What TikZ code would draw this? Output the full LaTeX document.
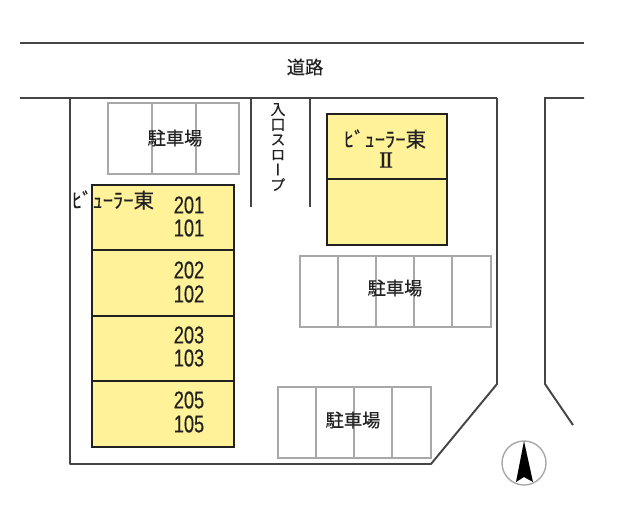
\documentclass[tikz,border=0pt]{standalone}
\usepackage{fontspec}
\setmainfont[FakeBold=0.3]{Noto Sans CJK JP}
\newfontfamily\vertfont[RawFeature=+vert,FakeBold=0.3]{Noto Sans CJK JP}
\newfontfamily\numfont[FakeStretch=0.75,FakeBold=0.3]{Liberation Sans}
\newfontfamily\romanfont[FakeBold=0.5]{DejaVu Serif}
\usepackage{xcolor}
\usetikzlibrary{positioning,calc}
\definecolor{wallgray}{rgb}{0.27, 0.27, 0.27}
\definecolor{lotgray}{rgb}{0.66, 0.66, 0.66}
\definecolor{buildyellow}{rgb}{1.0, 0.95, 0.6}
\definecolor{inkblack}{rgb}{0.13, 0.13, 0.13}

\begin{document}
\begin{tikzpicture}[x=0.02cm,y=-0.02cm,
                wall/.style={draw=wallgray,line width=1.1pt},
                lot/.style={draw=lotgray,line width=0.6pt},
                building/.style={draw=inkblack,fill=buildyellow,line width=0.9pt},
                label node/.style={inner sep=0pt,text=inkblack,font=\fontsize{10.4}{12}\selectfont},
                name node/.style={inner sep=0pt,text=inkblack,font=\fontsize{11.7}{13}\selectfont},
                room node/.style={inner sep=0pt,text=inkblack,font=\numfont\fontsize{13.8}{16}\selectfont}]
    \useasboundingbox (0,0) rectangle (639,528);
%Road and site
    \draw[wall] (20,43) -- (584,43);
    \draw[wall] (20,98) -- (497,98);
    \draw[wall] (584,98) -- (545,98) -- (545,384) -- (573,425);
    \draw[wall,line join=round] (70,98) -- (70,464) -- (431,464) -- (497,384) -- (497,98);
    \draw[wall] (251,98) -- (251,207);
    \draw[wall] (310,98) -- (310,207);
%Parking
    \draw[lot] (108,103) rectangle (239,174);
    \foreach \x in {152,196} \draw[lot] (\x,103) -- (\x,174);
    \draw[lot] (300,256) rectangle (491,327);
    \foreach \x in {338,376,414,452} \draw[lot] (\x,256) -- (\x,327);
    \draw[lot] (278,387) rectangle (431,458);
    \foreach \x in {316,354,392} \draw[lot] (\x,387) -- (\x,458);
%Buildings
    \draw[building] (92,185) rectangle (234,447);
    \foreach \y in {250,316,381} \draw[building] (92,\y) -- (234,\y);
    \draw[building] (327,114) rectangle (447,245);
    \draw[building] (327,179) -- (447,179);
%Labels
    \node[label node] (road) at (305,67) {道路};
    \node[label node] (lotA) at (175,138) {駐車場};
    \node[label node] (lotB) at (395,288) {駐車場};
    \node[label node] (lotC) at (353,420) {駐車場};
    \node[label node,align=center,font=\vertfont\fontsize{8.6}{8.6}\selectfont] (ramp) at (278,147)
        {入\\口\\ス\\ロ\\ー\\プ};
    \node[name node] (nameA) at (113,200) {ﾋﾞｭｰﾗｰ東};
    \node[name node] (nameB) at (385,139) {ﾋﾞｭｰﾗｰ東};
    \node[name node,font=\romanfont\fontsize{12}{14}\selectfont] (nameC) at (386,160) {Ⅱ};
    \node[room node] (r201) at (189,205) {201};
    \node[room node] (r101) at (189,228) {101};
    \node[room node] (r202) at (189,270) {202};
    \node[room node] (r102) at (189,294) {102};
    \node[room node] (r203) at (189,335) {203};
    \node[room node] (r103) at (189,358) {103};
    \node[room node] (r205) at (189,400) {205};
    \node[room node] (r105) at (189,424) {105};
%North mark
    \draw[lot,line width=0.8pt] (524,463) circle [radius=22];
    \fill[black] (524,441) -- (533,482) -- (524,477) -- (516,482) -- cycle;
\end{tikzpicture}
\end{document}
